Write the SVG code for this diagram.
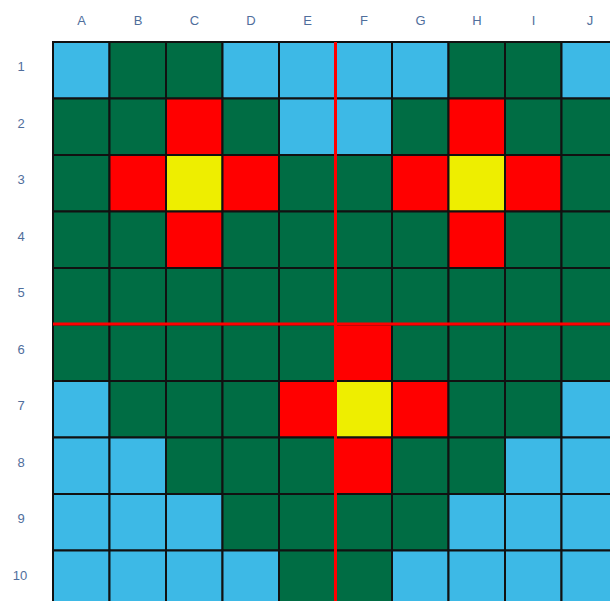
<svg xmlns="http://www.w3.org/2000/svg" width="610" height="601" viewBox="0 0 610 601">
<style>
.c{stroke:#111;stroke-width:2}
.b{fill:#3db9e6}.g{fill:#006d44}.r{fill:#ff0000}.y{fill:#eeee00}
.l{font-family:"Liberation Sans",Arial,sans-serif;font-size:13px;fill:#4f6e9c;text-anchor:middle}
.rl{stroke:#ff0000;stroke-width:3}
</style>
<rect width="610" height="601" fill="#fff"/>
<g id="labels">
<text class="l" x="81.5" y="25">A</text><text class="l" x="138" y="25">B</text><text class="l" x="194.5" y="25">C</text><text class="l" x="251" y="25">D</text><text class="l" x="307.5" y="25">E</text><text class="l" x="364" y="25">F</text><text class="l" x="420.5" y="25">G</text><text class="l" x="477" y="25">H</text><text class="l" x="533.5" y="25">I</text><text class="l" x="590" y="25">J</text>
<text class="l" x="21" y="71">1</text><text class="l" x="21" y="127.5">2</text><text class="l" x="21" y="184">3</text><text class="l" x="21" y="240.5">4</text><text class="l" x="21" y="297">5</text><text class="l" x="21" y="353.5">6</text><text class="l" x="21" y="410">7</text><text class="l" x="21" y="466.5">8</text><text class="l" x="21" y="523">9</text><text class="l" x="20" y="579.5">10</text>
</g>
<g id="grid">
<!-- row 1 -->
<rect class="c b" x="53" y="42" width="56.5" height="56.5"/><rect class="c g" x="109.5" y="42" width="56.5" height="56.5"/><rect class="c g" x="166" y="42" width="56.5" height="56.5"/><rect class="c b" x="222.5" y="42" width="56.5" height="56.5"/><rect class="c b" x="279" y="42" width="56.5" height="56.5"/><rect class="c b" x="335.5" y="42" width="56.5" height="56.5"/><rect class="c b" x="392" y="42" width="56.5" height="56.5"/><rect class="c g" x="448.5" y="42" width="56.5" height="56.5"/><rect class="c g" x="505" y="42" width="56.5" height="56.5"/><rect class="c b" x="561.5" y="42" width="56.5" height="56.5"/>
<!-- row 2 -->
<rect class="c g" x="53" y="98.5" width="56.5" height="56.5"/><rect class="c g" x="109.5" y="98.5" width="56.5" height="56.5"/><rect class="c r" x="166" y="98.5" width="56.5" height="56.5"/><rect class="c g" x="222.5" y="98.5" width="56.5" height="56.5"/><rect class="c b" x="279" y="98.5" width="56.5" height="56.5"/><rect class="c b" x="335.5" y="98.5" width="56.5" height="56.5"/><rect class="c g" x="392" y="98.5" width="56.5" height="56.5"/><rect class="c r" x="448.5" y="98.5" width="56.5" height="56.5"/><rect class="c g" x="505" y="98.5" width="56.5" height="56.5"/><rect class="c g" x="561.5" y="98.5" width="56.5" height="56.5"/>
<!-- row 3 -->
<rect class="c g" x="53" y="155" width="56.5" height="56.5"/><rect class="c r" x="109.5" y="155" width="56.5" height="56.5"/><rect class="c y" x="166" y="155" width="56.5" height="56.5"/><rect class="c r" x="222.5" y="155" width="56.5" height="56.5"/><rect class="c g" x="279" y="155" width="56.5" height="56.5"/><rect class="c g" x="335.5" y="155" width="56.5" height="56.5"/><rect class="c r" x="392" y="155" width="56.5" height="56.5"/><rect class="c y" x="448.5" y="155" width="56.5" height="56.5"/><rect class="c r" x="505" y="155" width="56.5" height="56.5"/><rect class="c g" x="561.5" y="155" width="56.5" height="56.5"/>
<!-- row 4 -->
<rect class="c g" x="53" y="211.5" width="56.5" height="56.5"/><rect class="c g" x="109.5" y="211.5" width="56.5" height="56.5"/><rect class="c r" x="166" y="211.5" width="56.5" height="56.5"/><rect class="c g" x="222.5" y="211.5" width="56.5" height="56.5"/><rect class="c g" x="279" y="211.5" width="56.5" height="56.5"/><rect class="c g" x="335.5" y="211.5" width="56.5" height="56.5"/><rect class="c g" x="392" y="211.5" width="56.5" height="56.5"/><rect class="c r" x="448.5" y="211.5" width="56.5" height="56.5"/><rect class="c g" x="505" y="211.5" width="56.5" height="56.5"/><rect class="c g" x="561.5" y="211.5" width="56.5" height="56.5"/>
<!-- row 5 -->
<rect class="c g" x="53" y="268" width="56.5" height="56.5"/><rect class="c g" x="109.5" y="268" width="56.5" height="56.5"/><rect class="c g" x="166" y="268" width="56.5" height="56.5"/><rect class="c g" x="222.5" y="268" width="56.5" height="56.5"/><rect class="c g" x="279" y="268" width="56.5" height="56.5"/><rect class="c g" x="335.5" y="268" width="56.5" height="56.5"/><rect class="c g" x="392" y="268" width="56.5" height="56.5"/><rect class="c g" x="448.5" y="268" width="56.5" height="56.5"/><rect class="c g" x="505" y="268" width="56.5" height="56.5"/><rect class="c g" x="561.5" y="268" width="56.5" height="56.5"/>
<!-- row 6 -->
<rect class="c g" x="53" y="324.5" width="56.5" height="56.5"/><rect class="c g" x="109.5" y="324.5" width="56.5" height="56.5"/><rect class="c g" x="166" y="324.5" width="56.5" height="56.5"/><rect class="c g" x="222.5" y="324.5" width="56.5" height="56.5"/><rect class="c g" x="279" y="324.5" width="56.5" height="56.5"/><rect class="c r" x="335.5" y="324.5" width="56.5" height="56.5"/><rect class="c g" x="392" y="324.5" width="56.5" height="56.5"/><rect class="c g" x="448.5" y="324.5" width="56.5" height="56.5"/><rect class="c g" x="505" y="324.5" width="56.5" height="56.5"/><rect class="c g" x="561.5" y="324.5" width="56.5" height="56.5"/>
<!-- row 7 -->
<rect class="c b" x="53" y="381" width="56.5" height="56.5"/><rect class="c g" x="109.5" y="381" width="56.5" height="56.5"/><rect class="c g" x="166" y="381" width="56.5" height="56.5"/><rect class="c g" x="222.5" y="381" width="56.5" height="56.5"/><rect class="c r" x="279" y="381" width="56.5" height="56.5"/><rect class="c y" x="335.5" y="381" width="56.5" height="56.5"/><rect class="c r" x="392" y="381" width="56.5" height="56.5"/><rect class="c g" x="448.5" y="381" width="56.5" height="56.5"/><rect class="c g" x="505" y="381" width="56.5" height="56.5"/><rect class="c b" x="561.5" y="381" width="56.5" height="56.5"/>
<!-- row 8 -->
<rect class="c b" x="53" y="437.5" width="56.5" height="56.5"/><rect class="c b" x="109.5" y="437.5" width="56.5" height="56.5"/><rect class="c g" x="166" y="437.5" width="56.5" height="56.5"/><rect class="c g" x="222.5" y="437.5" width="56.5" height="56.5"/><rect class="c g" x="279" y="437.5" width="56.5" height="56.5"/><rect class="c r" x="335.5" y="437.5" width="56.5" height="56.5"/><rect class="c g" x="392" y="437.5" width="56.5" height="56.5"/><rect class="c g" x="448.5" y="437.5" width="56.5" height="56.5"/><rect class="c b" x="505" y="437.5" width="56.5" height="56.5"/><rect class="c b" x="561.5" y="437.5" width="56.5" height="56.5"/>
<!-- row 9 -->
<rect class="c b" x="53" y="494" width="56.5" height="56.5"/><rect class="c b" x="109.5" y="494" width="56.5" height="56.5"/><rect class="c b" x="166" y="494" width="56.5" height="56.5"/><rect class="c g" x="222.5" y="494" width="56.5" height="56.5"/><rect class="c g" x="279" y="494" width="56.5" height="56.5"/><rect class="c g" x="335.5" y="494" width="56.5" height="56.5"/><rect class="c g" x="392" y="494" width="56.5" height="56.5"/><rect class="c b" x="448.5" y="494" width="56.5" height="56.5"/><rect class="c b" x="505" y="494" width="56.5" height="56.5"/><rect class="c b" x="561.5" y="494" width="56.5" height="56.5"/>
<!-- row 10 -->
<rect class="c b" x="53" y="550.5" width="56.5" height="56.5"/><rect class="c b" x="109.5" y="550.5" width="56.5" height="56.5"/><rect class="c b" x="166" y="550.5" width="56.5" height="56.5"/><rect class="c b" x="222.5" y="550.5" width="56.5" height="56.5"/><rect class="c g" x="279" y="550.5" width="56.5" height="56.5"/><rect class="c g" x="335.5" y="550.5" width="56.5" height="56.5"/><rect class="c b" x="392" y="550.5" width="56.5" height="56.5"/><rect class="c b" x="448.5" y="550.5" width="56.5" height="56.5"/><rect class="c b" x="505" y="550.5" width="56.5" height="56.5"/><rect class="c b" x="561.5" y="550.5" width="56.5" height="56.5"/>
</g>
<g id="dividers">
<line class="rl" x1="335.5" y1="42" x2="335.5" y2="601"/>
<line class="rl" x1="53" y1="324" x2="610" y2="324"/>
</g>
</svg>
